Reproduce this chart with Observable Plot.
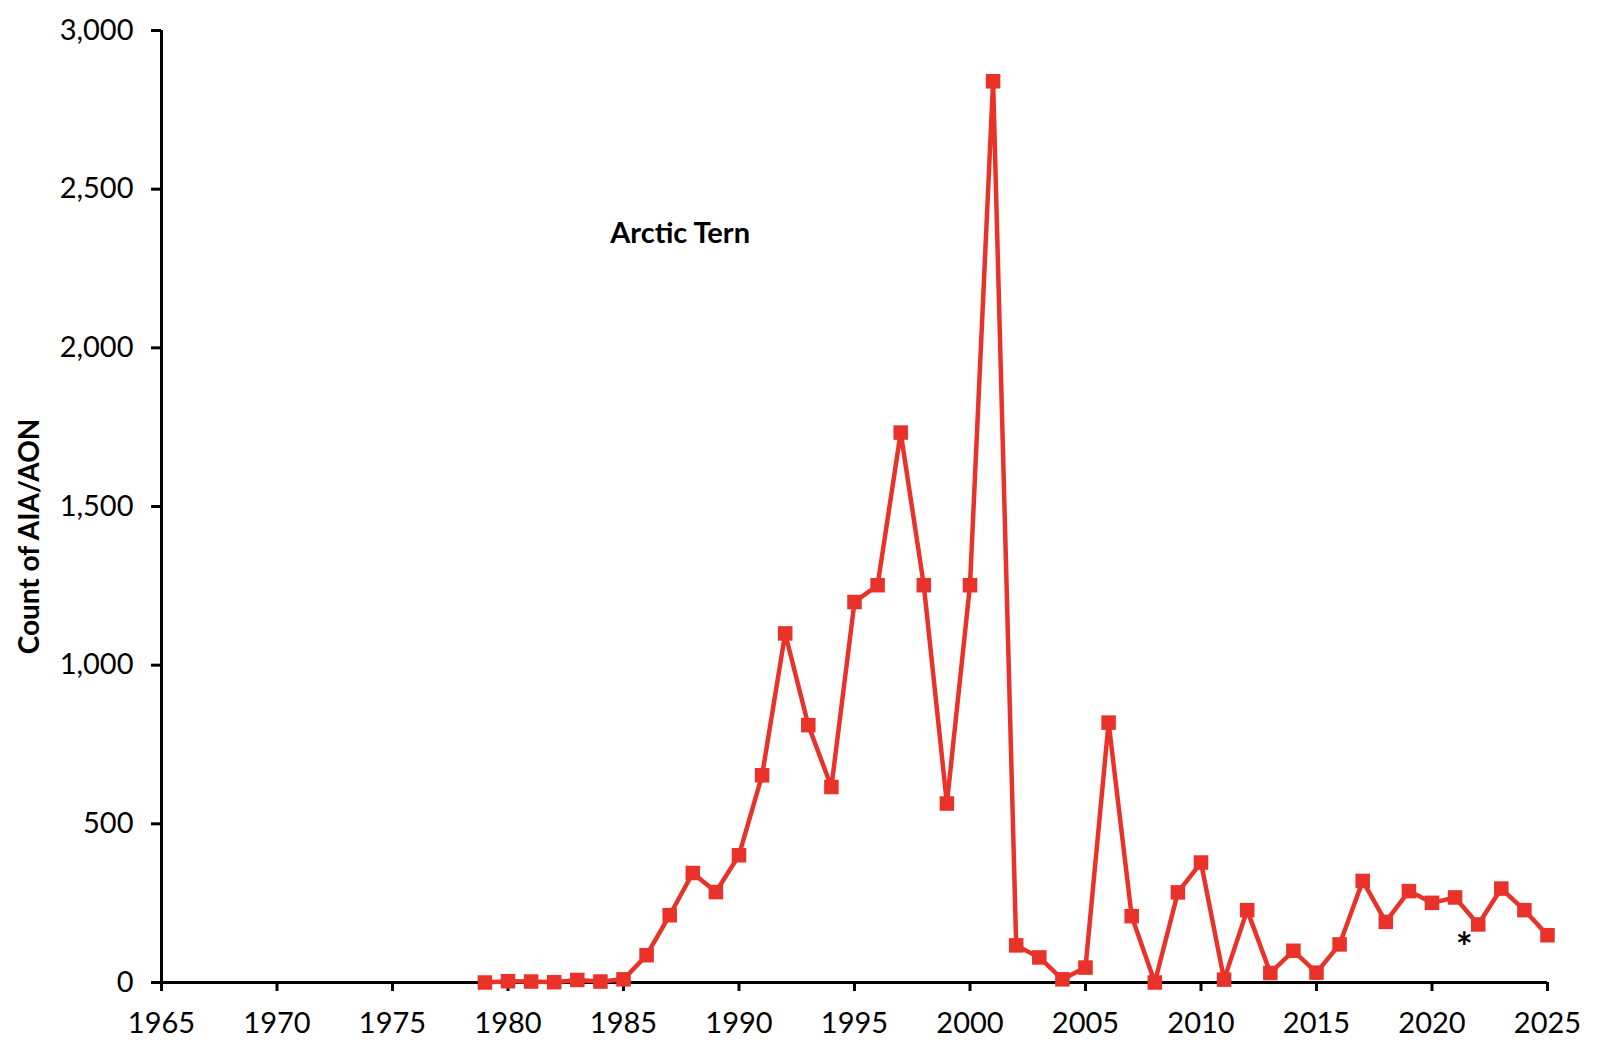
<!DOCTYPE html>
<html>
<head>
<meta charset="utf-8">
<script src="https://cdn.jsdelivr.net/npm/d3@7"></script>
<script src="https://cdn.jsdelivr.net/npm/@observablehq/plot@0.6"></script>
<style>
  html, body { margin: 0; padding: 0; background: #fff; }
  #chart svg { display: block; }
</style>
</head>
<body>
<div id="chart"></div>
<script>
const years = [1979,1980,1981,1982,1983,1984,1985,1986,1987,1988,1989,1990,1991,1992,1993,1994,1995,1996,1997,1998,1999,2000,2001,2002,2003,2004,2005,2006,2007,2008,2009,2010,2011,2012,2013,2014,2015,2016,2017,2018,2019,2020,2021,2022,2023,2024,2025];
const counts = [0,4,3,1,8,3,10,86,212,345,285,401,653,1100,811,616,1199,1252,1733,1252,564,1252,2840,117,79,10,47,819,209,0,284,378,9,228,30,100,31,120,320,191,288,251,268,183,296,228,149];
const xTicks = [1965,1970,1975,1980,1985,1990,1995,2000,2005,2010,2015,2020,2025];
const yTicks = [0,500,1000,1500,2000,2500,3000];
const speciesLabel = "Arctic Tern";
const yAxisLabel = "Count of AIA/AON";
const noteMark = "*";

const data = years.map((y, i) => ({year: y, count: counts[i]}));
const red = "#e9332a";
const font = "Lato, 'Open Sans', sans-serif";

const chart = Plot.plot({
  width: 1610,
  height: 1060,
  marginLeft: 161,
  marginRight: 63,
  marginTop: 30,
  marginBottom: 78,
  style: {fontFamily: font, background: "#fff", color: "#000"},
  x: {domain: [1965, 2025]},
  y: {domain: [0, 3000]},
  marks: [
    Plot.axisY({ticks: yTicks, tickSize: 10, tickPadding: 18, fontSize: 29, tickFormat: d3.format(","), label: null, strokeWidth: 3}),
    Plot.axisX({ticks: xTicks, tickSize: 9, tickPadding: 21, fontSize: 29, tickFormat: d => String(d), label: null, strokeWidth: 3}),
    Plot.ruleY([0], {stroke: "#000", strokeWidth: 3}),
    Plot.ruleX([1965], {stroke: "#000", strokeWidth: 3}),
    Plot.line(data, {x: "year", y: "count", stroke: red, strokeWidth: 4.5}),
    Plot.dot(data, {x: "year", y: "count", symbol: "square", fill: red, r: 8.2}),
    Plot.text([speciesLabel], {x: [1987.45], y: [2360], text: d => d, fontSize: 29, fontWeight: "bold", fill: "#000"}),
    Plot.text([noteMark], {x: [2021.4], y: [105], text: d => d, fontSize: 40, fontWeight: "bold", fill: "#000"}),
    Plot.text([yAxisLabel], {frameAnchor: "left", textAnchor: "middle", dx: -131, dy: 30, rotate: -90, text: d => d, fontSize: 28, fontWeight: "bold", fill: "#000"})
  ]
});
document.getElementById("chart").appendChild(chart);
</script>
</body>
</html>
